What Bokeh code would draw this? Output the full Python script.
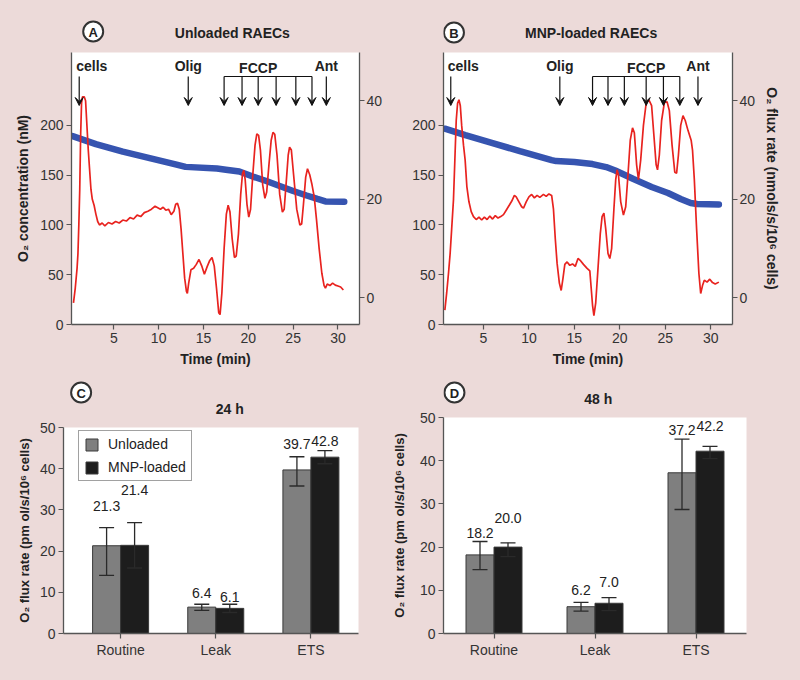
from bokeh.plotting import figure
from bokeh.layouts import column, row
from bokeh.models import (Range1d, LinearAxis, FixedTicker, Label, LabelSet, Arrow,
                          VeeHead, Whisker, TeeHead, ColumnDataSource, GlobalInlineStyleSheet)
from bokeh.core.properties import value
from bokeh.embed import file_html
from bokeh.resources import INLINE

FONT = "Liberation Sans"
BG = "#ecdad9"
RED = "#e8231f"
BLUE = "#3654b0"

# ---------------- Oxygraph traces (panel A: unloaded) ----------------
a_flux_t = [0.5, 0.7, 0.9, 1.0, 1.1, 1.2, 1.3, 1.4, 1.5, 1.7, 1.85, 2.0, 2.15, 2.3, 2.45, 2.6,
            2.8, 3.0, 3.2, 3.4, 3.7, 4.0, 4.4, 4.8, 5.2, 5.6, 6.0, 6.4, 6.8, 7.2, 7.6, 8.0,
            8.4, 8.8, 9.2, 9.6, 9.9, 10.2, 10.5, 10.8, 11.1, 11.4, 11.7, 11.9, 12.1, 12.3,
            12.5, 12.7, 12.9, 13.1, 13.2, 13.35, 13.6, 13.9, 14.2, 14.5, 14.8, 15.1, 15.4,
            15.7, 15.95, 16.2, 16.45, 16.7, 16.85, 17.05, 17.3, 17.55, 17.75, 17.95, 18.2,
            18.45, 18.65, 18.9, 19.15, 19.35, 19.5, 19.65, 19.85, 20.05, 20.25, 20.5, 20.75,
            20.95, 21.15, 21.35, 21.6, 21.85, 22.05, 22.3, 22.55, 22.75, 22.95, 23.2, 23.5,
            23.8, 24.0, 24.25, 24.45, 24.6, 24.8, 25.05, 25.4, 25.75, 25.95, 26.15, 26.4,
            26.6, 26.85, 27.1, 27.35, 27.6, 27.9, 28.2, 28.45, 28.6, 28.8, 29.1, 29.4, 29.7,
            30.0, 30.3, 30.6]
a_flux = [-1.0, 2, 6, 9, 15, 22, 33, 39.5, 40.8, 40.8, 40, 35, 30, 26, 22, 20,
          18.8, 17, 15.5, 14.8, 15.2, 14.6, 15.3, 15.0, 15.5, 15.2, 15.8, 15.6, 16.3, 16.0, 16.8, 16.5,
          17.3, 17.6, 18.0, 18.6, 18.3, 18.0, 18.4, 17.8, 18.0, 16.9, 17.6, 19.0, 19.2, 18.0,
          14, 9, 4, 1.3, 0.9, 3, 5.7, 6.0, 6.8, 7.8, 6.5, 4.8, 6.3,
          7.6, 8.2, 6.5, 2, -3.0, -3.4, 1, 10, 17, 18.8, 17.5, 12,
          8.2, 8.5, 13, 21, 25.2, 25.9, 24, 19, 16.4, 18, 25, 31,
          33.3, 33.0, 30, 23, 20.2, 21.5, 27, 32, 33.6, 33.2, 29, 21,
          17.4, 18, 24, 29, 30.6, 30, 25, 18, 14.8, 15.0, 19, 24.5,
          26.2, 25, 23, 20.5, 16, 10, 5, 2.5, 2.0, 2.8, 2.5, 3.0, 2.6,
          2.4, 2.2, 1.6]
a_conc_t = [0.4, 3, 6, 9, 12, 13, 16.5, 17.5, 19, 20.5, 22, 23.5, 25, 26.5, 27.7, 28.6, 30.7]
a_conc = [189, 181, 173.5, 167, 160.5, 158.2, 156.5, 155.3, 153.5, 148.5, 144, 139, 134,
          129.5, 126, 123.5, 123.2]
a_cells, a_olig, a_ant = 1.14, 13.3, 28.7
a_fccp = [17.3, 19.3, 21.1, 23.1, 25.3, 27.1]

# ---------------- Oxygraph traces (panel B: MNP-loaded) ----------------
b_flux_t = [0.75, 0.95, 1.15, 1.33, 1.5, 1.7, 1.85, 2.0, 2.15, 2.3, 2.45, 2.6, 2.8, 2.98, 3.17,
            3.4, 3.65, 3.9, 4.2, 4.5, 4.8, 5.1, 5.4, 5.7, 6.0, 6.3, 6.6, 6.9, 7.2, 7.5, 7.8,
            8.1, 8.4, 8.6, 8.9, 9.2, 9.4, 9.7, 10.0, 10.3, 10.6, 10.9, 11.2, 11.6, 11.9, 12.2,
            12.5, 12.7, 12.9, 13.1, 13.35, 13.55, 13.75, 13.95, 14.2, 14.5, 14.8, 15.1, 15.4,
            15.7, 16.0, 16.4, 16.7, 16.85, 17.0, 17.15, 17.35, 17.6, 17.85, 18.05, 18.25,
            18.45, 18.7, 18.9, 19.1, 19.35, 19.55, 19.7, 19.85, 20.1, 20.4, 20.65, 20.9,
            21.15, 21.4, 21.6, 21.85, 22.05, 22.3, 22.6, 22.9, 23.2, 23.5, 23.75, 24.0,
            24.15, 24.35, 24.6, 24.9, 25.2, 25.45, 25.75, 26.05, 26.25, 26.45, 26.7, 26.95,
            27.2, 27.5, 27.85, 28.0, 28.2, 28.45, 28.7, 28.9, 29.1, 29.3, 29.6, 29.9, 30.2,
            30.5, 30.9]
b_flux = [-2.5, 1, 5, 9, 14, 20, 28, 36, 39.5, 40.2, 39, 35, 31, 28, 22.6,
          19.5, 17.5, 16.5, 15.9, 16.4, 15.8, 16.4, 15.9, 16.6, 16.0, 16.7, 16.2, 16.5, 16.9, 17.8, 18.7,
          19.6, 20.8, 20.5, 19.5, 18.5, 18.2, 19.5, 20.5, 21.0, 20.3, 20.8, 20.4, 21.0, 20.6, 21.1,
          20.8, 18, 12, 7, 3, 1.5, 4, 6.8, 7.3, 6.6, 6.9, 6.4, 8.0,
          7.5, 6.8, 6.0, 5.5, 2, -1.5, -3.6, -1, 6, 13, 16.5, 17.2,
          14, 9, 8, 10, 18, 24, 26, 25, 19.5, 16.8, 18.5, 25,
          32, 34.5, 33.5, 27, 24, 28, 35, 39.5, 40.2, 39, 33, 27,
          26, 29, 36, 39.6, 39.8, 38, 31, 25.5, 25.3, 29, 35, 37,
          36, 34, 32, 30, 24, 14, 5, 0.9, 2.5, 3.6, 3.2, 3.8, 3.1,
          2.8, 3.2]
b_conc_t = [0.75, 3, 6, 9, 12.5, 13, 15, 17, 18.5, 19.5, 21.5, 23.5, 25.3, 26.7, 27.8, 28.5, 30.9]
b_conc = [196.5, 190, 182, 174, 165, 164, 163, 161, 158, 154.5, 146, 138, 132, 126, 122,
          121, 120.5]
b_cells, b_olig, b_ant = 1.4, 13.4, 28.6
b_fccp = [17.0, 18.7, 20.5, 22.9, 24.8, 26.6]

# ---------------- Bar charts ----------------
cats = ["Routine", "Leak", "ETS"]
series_names = ["Unloaded", "MNP-loaded"]
c_unl = [21.3, 6.4, 39.7]
c_unl_lo = [14.1, 5.6, 35.8]
c_unl_hi = [25.7, 7.1, 42.9]
c_mnp = [21.4, 6.1, 42.8]
c_mnp_lo = [15.9, 5.1, 41.2]
c_mnp_hi = [26.9, 7.1, 44.4]
d_unl = [18.2, 6.2, 37.2]
d_unl_lo = [14.8, 5.2, 28.7]
d_unl_hi = [21.3, 7.2, 45.0]
d_mnp = [20.0, 7.0, 42.2]
d_mnp_lo = [17.8, 5.3, 40.5]
d_mnp_hi = [21.0, 8.3, 43.3]


def mapper(xr, yr, fw, fh):
    sx = (xr[1] - xr[0]) / fw
    sy = (yr[1] - yr[0]) / fh

    def at(px, py):
        return xr[0] + px * sx, yr[1] - py * sy
    return at, sx, sy


def style_axis(ax, label_size):
    ax.axis_line_color = "#555555"
    ax.axis_line_width = 1.3
    ax.major_tick_line_color = "#555555"
    ax.major_tick_line_width = 1.2
    ax.major_tick_in = 0
    ax.major_tick_out = 5
    ax.minor_tick_line_color = None
    ax.major_label_text_font = FONT
    ax.major_label_text_font_size = "14px"
    ax.major_label_text_color = "#333333"
    ax.major_label_standoff = 3
    ax.axis_label_text_font = FONT
    ax.axis_label_text_font_style = "bold"
    ax.axis_label_text_font_size = label_size
    ax.axis_label_text_color = "#222222"


def header(width, height, letter, letter_xy, title, title_xy):
    """Strip above a panel holding its circled letter and its title (pixel coordinates)."""
    h = figure(width=width, height=height, output_backend="svg", toolbar_location=None,
               x_range=Range1d(0, width), y_range=Range1d(height, 0),
               x_axis_type=None, y_axis_type=None, min_border=0, title=None)
    h.background_fill_color = BG
    h.border_fill_color = BG
    h.outline_line_color = None
    h.scatter(x=[letter_xy[0]], y=[letter_xy[1]], marker="circle", size=20,
              fill_color="white", line_color="#333333", line_width=2)
    h.text(x=[letter_xy[0]], y=[letter_xy[1] + 0.5], text=[letter], text_font=value(FONT),
           text_font_style="bold", text_font_size="13px", text_align="center",
           text_baseline="middle", text_color="#222222")
    h.text(x=[title_xy[0]], y=[title_xy[1]], text=[title], text_font=value(FONT),
           text_font_style="bold", text_font_size="14px", text_align="center",
           text_baseline="middle", text_color="#222222")
    return h


def text_label(x, y, t, align="center"):
    return Label(x=x, y=y, text=t, text_font=FONT, text_font_style="bold",
                 text_font_size="14px", text_align=align, text_baseline="middle",
                 text_color="#222222")


def trace_panel(flux_t, flux, conc_t, conc, cells, olig, fccp, ant, fccp_lab_idx, xr,
                width, border_left, border_right, left_label, right_label, ylab_standoff):
    yr = (0, 273)
    fr = (-5.4, 49.8)
    fw, fh = 288, 272
    at, sx, sy = mapper(xr, yr, fw, fh)
    p = figure(width=width, height=324, output_backend="svg", toolbar_location=None,
               x_range=Range1d(*xr), y_range=Range1d(*yr),
               min_border_left=border_left, min_border_right=border_right,
               min_border_top=4, min_border_bottom=48, title=None)
    p.background_fill_color = "white"
    p.border_fill_color = BG
    p.outline_line_color = None
    p.grid.visible = False
    p.extra_y_ranges = {"flux": Range1d(*fr)}

    p.xaxis.ticker = FixedTicker(ticks=[5, 10, 15, 20, 25, 30])
    p.xaxis.axis_label = "Time (min)"
    p.yaxis.ticker = FixedTicker(ticks=[0, 50, 100, 150, 200])
    if left_label:
        p.yaxis.axis_label = left_label
    rax = LinearAxis(y_range_name="flux", ticker=FixedTicker(ticks=[0, 20, 40]))
    if right_label:
        rax.axis_label = right_label
    p.add_layout(rax, "right")
    for ax in [p.xaxis[0], p.yaxis[0], rax]:
        style_axis(ax, "14px")
    p.xaxis.axis_label_standoff = 5
    p.yaxis[0].axis_label_standoff = ylab_standoff
    rax.major_label_standoff = 2
    rax.axis_label_standoff = 6

    p.line(conc_t, conc, line_color=BLUE, line_width=6.5, line_cap="round")
    p.line(flux_t, flux, y_range_name="flux", line_color=RED, line_width=1.7)

    # injection arrows
    _, y_top = at(0, 24)
    _, y_tip = at(0, 53)
    _, y_txt = at(0, 13)
    events = [cells, olig] + list(fccp) + [ant]
    src = ColumnDataSource(dict(t=events))
    p.add_layout(Arrow(end=VeeHead(size=8, fill_color="#111111", line_color="#111111",
                                   line_width=1),
                       x_start="t", x_end="t", y_start=y_top, y_end=y_tip, source=src,
                       line_color="#111111", line_width=1.2))
    p.segment(x0=[fccp[0]], y0=[y_top], x1=[fccp[-1]], y1=[y_top],
              line_color="#111111", line_width=1.2)
    p.add_layout(text_label(cells - 3 * sx, y_txt, "cells", align="left"))
    p.add_layout(text_label(olig, y_txt, "Olig"))
    p.add_layout(text_label(fccp[fccp_lab_idx], y_txt - 2 * sy, "FCCP"))
    p.add_layout(text_label(ant, y_txt, "Ant"))
    return p


def bar_panel(unl, unl_lo, unl_hi, mnp, mnp_lo, mnp_hi, xr, fw, fh, width, height,
              borders, off_unl, off_mnp, ylabel_standoff, legend):
    yr = (0, 50)
    at, sx, sy = mapper(xr, yr, fw, fh)
    bl, br, bt, bb = borders
    p = figure(width=width, height=height, output_backend="svg", toolbar_location=None,
               x_range=Range1d(*xr), y_range=Range1d(*yr),
               min_border_left=bl, min_border_right=br,
               min_border_top=bt, min_border_bottom=bb, title=None)
    p.background_fill_color = "white"
    p.border_fill_color = BG
    p.outline_line_color = None
    p.grid.visible = False

    centers = [i + 0.5 for i in range(len(cats))]
    bw = 28 * sx
    p.xaxis.ticker = FixedTicker(ticks=centers)
    p.xaxis.major_label_overrides = {c: n for c, n in zip(centers, cats)}
    p.yaxis.ticker = FixedTicker(ticks=[0, 10, 20, 30, 40, 50])
    p.yaxis.axis_label = "O\u2082 flux rate (pm ol/s/10\u2076 cells)"
    style_axis(p.xaxis[0], "13px")
    style_axis(p.yaxis[0], "13px")
    p.yaxis.axis_label_standoff = ylabel_standoff

    groups = [
        (unl, unl_lo, unl_hi, off_unl, -bw / 2, "#7f7f7f", series_names[0]),
        (mnp, mnp_lo, mnp_hi, off_mnp, bw / 2, "#1d1d1d", series_names[1]),
    ]
    for vals, lo, hi, offs, dx, col, name in groups:
        xs = [c + dx for c in centers]
        src = ColumnDataSource(dict(
            x=xs, top=vals, lo=lo, hi=hi,
            ly=[min(v + o * sy, yr[1] - 8 * sy) for v, o in zip(vals, offs)],
            txt=["%.1f" % v for v in vals]))
        kw = dict(legend_label=name) if legend else {}
        p.vbar(x="x", top="top", width=bw, bottom=0, source=src, fill_color=col,
               line_color="#3a3a3a", line_width=1, **kw)
        p.add_layout(Whisker(base="x", lower="lo", upper="hi", source=src,
                             dimension="height", line_color="#2a2a2a", line_width=1.3,
                             upper_head=TeeHead(size=15, line_color="#2a2a2a", line_width=1.3),
                             lower_head=TeeHead(size=15, line_color="#2a2a2a", line_width=1.3),
                             level="annotation"))
        p.add_layout(LabelSet(x="x", y="ly", text="txt", source=src,
                              text_font=value(FONT), text_font_size="14px",
                              text_align="center", text_baseline="middle",
                              text_color="#222222"))

    if legend:
        lg = p.legend[0]
        lg.location = (15, fh - 6 - 48)
        lg.label_text_font = FONT
        lg.label_text_font_size = "14px"
        lg.label_text_color = "#222222"
        lg.glyph_width = 15
        lg.glyph_height = 15
        lg.label_height = 15
        lg.spacing = 7
        lg.padding = 5
        lg.margin = 0
        lg.label_standoff = 9
        lg.border_line_color = "#444444"
        lg.border_line_width = 1.2
        lg.background_fill_color = "white"
        lg.background_fill_alpha = 1.0
    return p


LW, RW = 385, 415   # widths of the left and right columns

hA = header(LW, 48, "A", (29, 31), "Unloaded RAECs", (215, 32))
pA = trace_panel(a_flux_t, a_flux, a_conc_t, a_conc, a_cells, a_olig, a_fccp, a_ant, 2,
                 (0.28, 32.4), LW, 71, 26, "O\u2082 concentration (nM)", None, 6)
hB = header(RW, 48, "B", (15, 32), "MNP-loaded RAECs", (212, 32))
pB = trace_panel(b_flux_t, b_flux, b_conc_t, b_conc, b_cells, b_olig, b_fccp, b_ant, 3,
                 (0.6, 32.4), RW, 58, 68, None,
                 "O\u2082 flux rate (nmols/s/10\u2076 cells)", 5)

hC = header(LW, 44, "C", (23, 20), "24 h", (217, 36))
pC = bar_panel(c_unl, c_unl_lo, c_unl_hi, c_mnp, c_mnp_lo, c_mnp_hi,
               (-0.1, 3.0), 295, 206, LW, 264, (63, 27, 11, 47),
               [40, 14.6, 26], [55, 11.4, 16.5], 5, True)
hD = header(RW, 35, "D", (15, 20), "48 h", (212, 26))
pD = bar_panel(d_unl, d_unl_lo, d_unl_hi, d_mnp, d_mnp_lo, d_mnp_hi,
               (0.0, 3.0), 303, 216, RW, 273, (58, 54, 10, 47),
               [22, 16.5, 43], [29.4, 21, 35.6], 10, False)

layout = column(row(column(hA, pA), column(hB, pB)),
                row(column(hC, pC), column(hD, pD)),
                stylesheets=[GlobalInlineStyleSheet(css="body { background-color: #ecdad9; }")])
open("out.html", "w").write(file_html(layout, INLINE))
